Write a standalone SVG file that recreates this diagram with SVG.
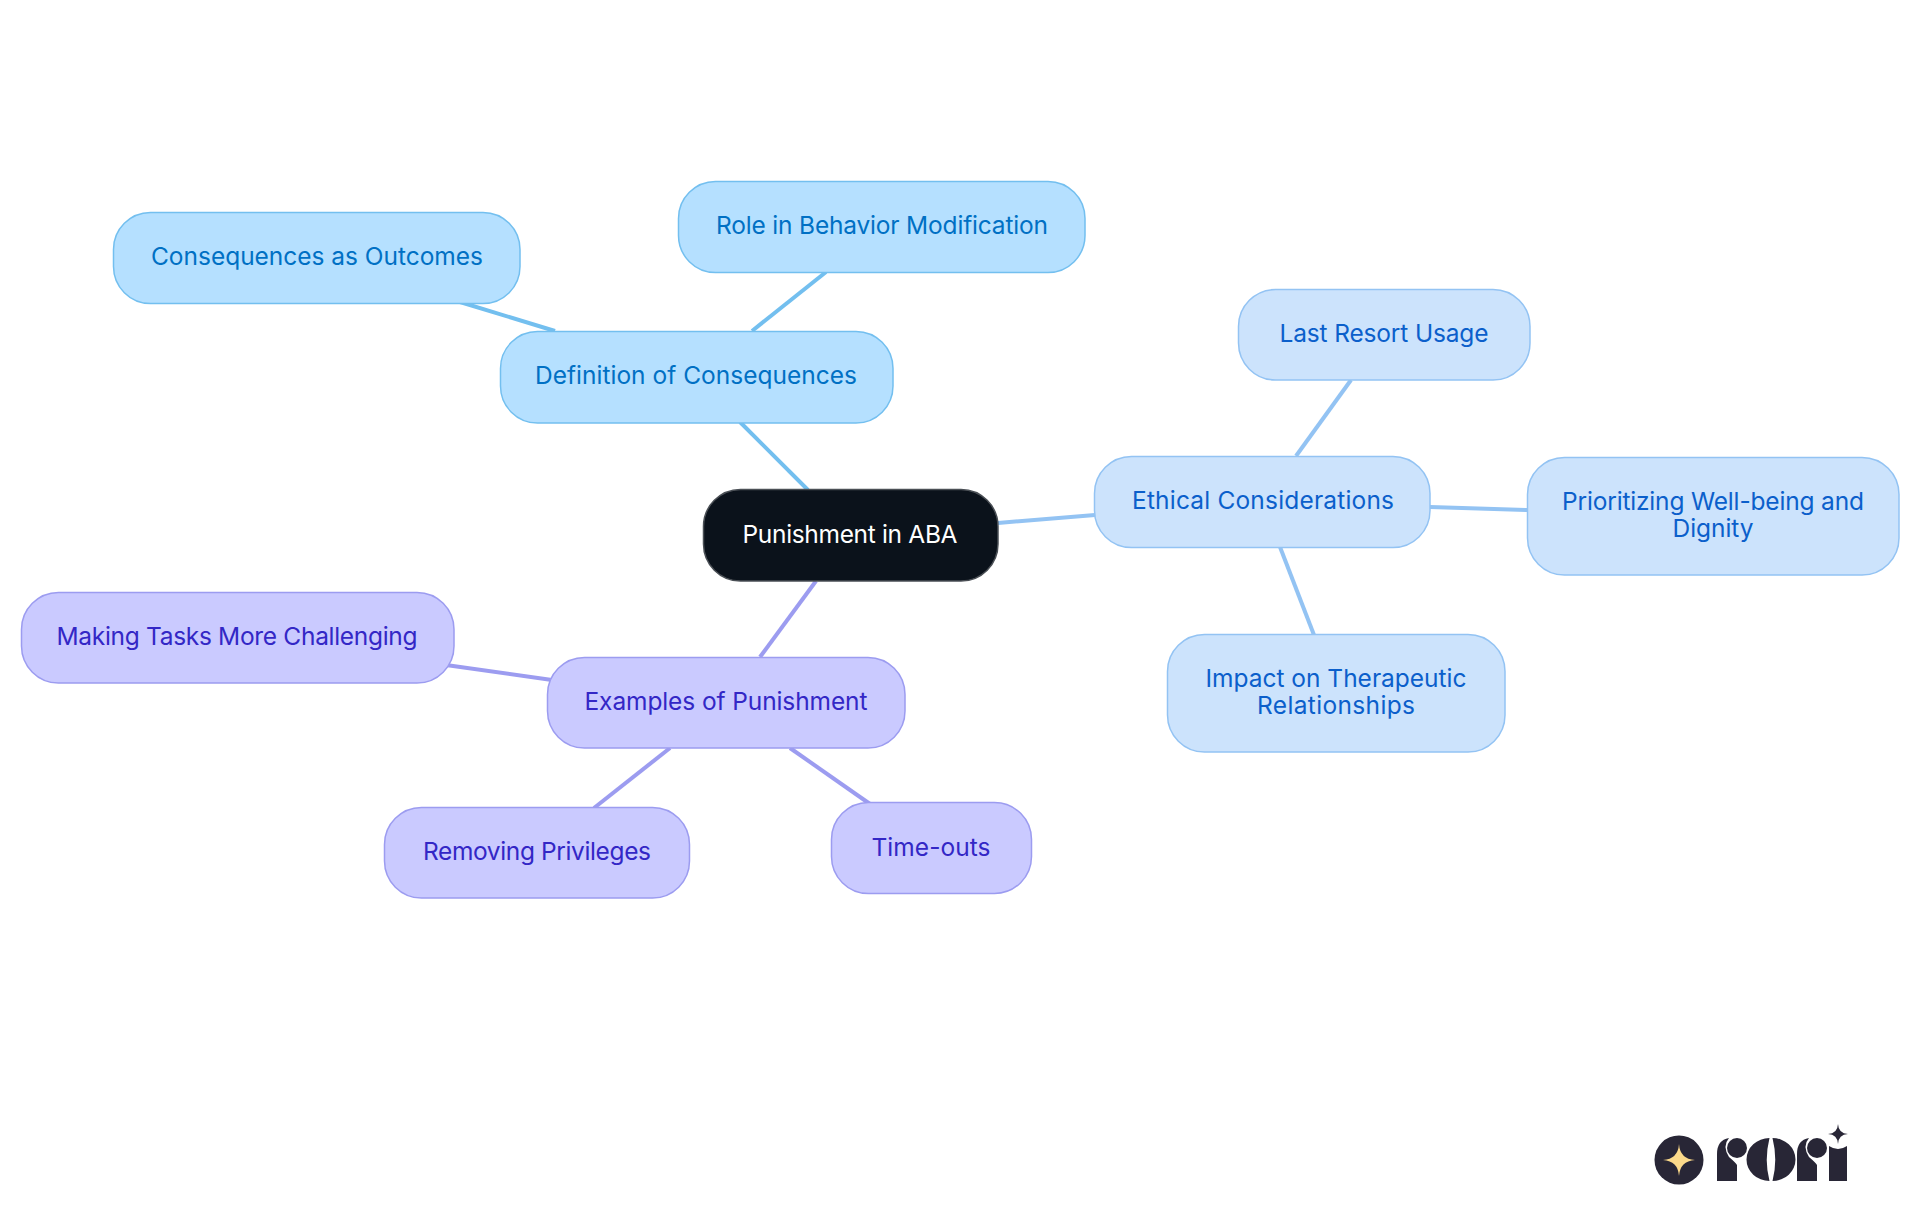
<svg xmlns="http://www.w3.org/2000/svg" width="1920" height="1215" viewBox="0 0 1920 1215">
<style>
text{font-family:"Inter","Noto Sans",sans-serif;font-size:24.500px;text-anchor:middle}
.n rect{stroke-width:1.5}
.a rect{fill:#b5e0ff;stroke:#73bfef}.a text{fill:#0070c4}
.b rect{fill:#cce3fc;stroke:#93c3f3}.b text{fill:#0b5fcb}
.c rect{fill:#cacaff;stroke:#9c9cf0}.c text{fill:#3327c6}
#connectors line{stroke-width:4;fill:none}
.la{stroke:#73bfef}.lb{stroke:#93c3f3}.lc{stroke:#9c9cf0}
</style>
<rect width="1920" height="1215" fill="#fff"/>
<g id="connectors">
<line class="la" x1="740" y1="422" x2="808" y2="490"/>
<line class="la" x1="752" y1="331" x2="826" y2="272"/>
<line class="la" x1="460" y1="302" x2="555" y2="331"/>
<line class="lb" x1="998" y1="523" x2="1095" y2="515"/>
<line class="lb" x1="1296" y1="456" x2="1351" y2="380"/>
<line class="lb" x1="1430" y1="507" x2="1528" y2="510"/>
<line class="lb" x1="1280" y1="547" x2="1314" y2="635"/>
<line class="lc" x1="816" y1="581" x2="760" y2="657"/>
<line class="lc" x1="446" y1="665" x2="552" y2="680"/>
<line class="lc" x1="670" y1="748" x2="594" y2="808"/>
<line class="lc" x1="790" y1="748" x2="870" y2="804"/>
</g>
<g id="root" class="n"><rect x="703.500" y="489.500" width="294.500" height="91.500" rx="37" fill="#0b121b" stroke="#4a4f55"/><text x="850" y="543" fill="#fff" textLength="215">Punishment in ABA</text></g>
<g id="definition" class="n a"><rect x="500.500" y="331.500" width="392.500" height="91.500" rx="37"/><text x="696" y="384" textLength="322">Definition of Consequences</text></g>
<g id="role" class="n a"><rect x="678.500" y="181.500" width="406.500" height="91" rx="37"/><text x="882" y="234" textLength="332">Role in Behavior Modification</text></g>
<g id="outcomes" class="n a"><rect x="113.500" y="212.500" width="406.500" height="91" rx="37"/><text x="317" y="265" textLength="332">Consequences as Outcomes</text></g>
<g id="ethical" class="n b"><rect x="1094.500" y="456.500" width="335.500" height="91" rx="37"/><text x="1263" y="509" textLength="262">Ethical Considerations</text></g>
<g id="last" class="n b"><rect x="1238.500" y="289.500" width="291.500" height="90.500" rx="37"/><text x="1384" y="342" textLength="209">Last Resort Usage</text></g>
<g id="wellbeing" class="n b"><rect x="1527.500" y="457.500" width="371.500" height="117.500" rx="37"/><text x="1713" y="510" textLength="302">Prioritizing Well-being and</text><text x="1713" y="537" textLength="81">Dignity</text></g>
<g id="impact" class="n b"><rect x="1167.500" y="634.500" width="337.500" height="117.500" rx="37"/><text x="1336" y="687" textLength="261">Impact on Therapeutic</text><text x="1336" y="714" textLength="158">Relationships</text></g>
<g id="examples" class="n c"><rect x="547.500" y="657.500" width="357.500" height="90.500" rx="37"/><text x="726" y="710" textLength="283">Examples of Punishment</text></g>
<g id="tasks" class="n c"><rect x="21.500" y="592.500" width="432.500" height="90.500" rx="37"/><text x="237" y="645" textLength="361">Making Tasks More Challenging</text></g>
<g id="privileges" class="n c"><rect x="384.500" y="807.500" width="305" height="90.500" rx="37"/><text x="537" y="860" textLength="228">Removing Privileges</text></g>
<g id="timeouts" class="n c"><rect x="831.500" y="802.500" width="200" height="91" rx="37"/><text x="931" y="856" textLength="119">Time-outs</text></g>
<g id="logo" fill="#282636">
<circle cx="1679" cy="1160" r="24.500"/>
<path d="M1679 1144Q1680 1159 1695 1160Q1680 1161 1679 1176Q1678 1161 1663 1160Q1678 1159 1679 1144Z" fill="#fbd98a"/>
<path d="M1717 1181V1154Q1717 1140 1729 1138Q1722 1146 1729 1157Q1736 1163 1737 1165V1181Z"/>
<circle cx="1737" cy="1148" r="10"/>
<path d="M1769.500 1138A23 21.500 0 0 0 1769.500 1181Q1764 1160 1769.500 1138Z"/>
<path d="M1772.500 1138A23 21.500 0 0 1 1772.500 1181Q1778 1160 1772.500 1138Z"/>
<path d="M1797 1181V1154Q1797 1140 1809 1138Q1802 1146 1809 1157Q1816 1163 1817 1165V1181Z"/>
<circle cx="1817" cy="1148" r="10"/>
<path d="M1829 1181V1146Q1838 1152 1847 1146V1181Z"/>
<path d="M1838 1124Q1838.500 1133.500 1848 1134Q1838.500 1134.500 1838 1144Q1837.500 1134.500 1828 1134Q1837.500 1133.500 1838 1124Z"/>
</g>
</svg>
